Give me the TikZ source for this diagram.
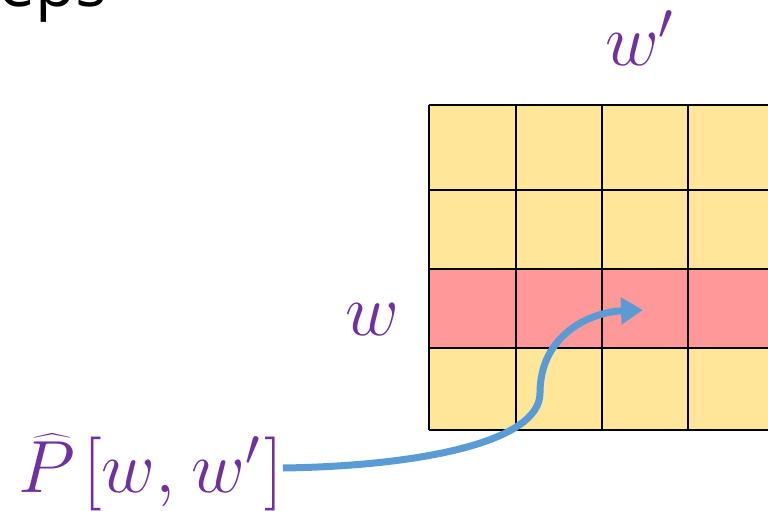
\RequirePackage{fix-cm}
\documentclass[tikz,border=0pt]{standalone}
\usepackage{amsmath}
\usepackage{fontspec}
\newfontfamily\uisans{Open Sans}
\usetikzlibrary{arrows.meta}
\definecolor{cellyellow}{HTML}{FFE699}
\definecolor{cellred}{HTML}{FF9999}
\definecolor{labpurple}{HTML}{7030A0}
\definecolor{arrblue}{HTML}{5B9BD5}
\tikzset{
  mathlab/.style={text=labpurple, inner sep=0pt, font=\fontsize{74}{80}\selectfont},
  gridline/.style={line width=2.8pt, black},
  flowarrow/.style={arrblue, line width=7pt, -{Triangle[length=22pt,width=26pt]}},
}
\begin{document}
\begin{tikzpicture}[x=1pt,y=-1pt]
\useasboundingbox (0,0) rectangle (768,511);
\clip (0,0) rectangle (768,511);
% title fragment
\node[anchor=base west, inner sep=0pt, font=\uisans\fontsize{66}{70}\selectfont] (title) at (-2,7) {eps};
% grid cells
\fill[cellyellow] (429,105) rectangle (860,269);
\fill[cellred] (429,269) rectangle (860,348);
\fill[cellyellow] (429,348) rectangle (860,430);
\foreach \x in {429,516,602,688,774} \draw[gridline] (\x,105) -- (\x,430);
\foreach \y in {105,190,269,348,430} \draw[gridline] (429,\y) -- (860,\y);
% labels
\node[mathlab, anchor=base west] (wp) at (605,66) {$w'$};
\node[mathlab, anchor=base west] (w) at (345,335) {$w$};
\node[mathlab, anchor=base west] (phat) at (18,492) {$\widehat{P}\mkern2mu[w,\mkern1mu w'\mkern1mu]$};
% arrow
\coordinate (start) at (283,468);
\coordinate (mid) at (540,393);
\coordinate (tip) at (643,310);
\draw[flowarrow] (start) .. controls (420,466) and (540,442) .. (mid)
  .. controls (540,335) and (590,312) .. (tip);
\end{tikzpicture}
\end{document}
